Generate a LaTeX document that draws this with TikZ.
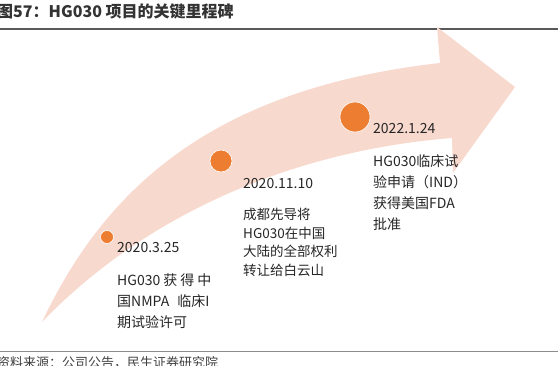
\documentclass[tikz,border=0pt]{standalone}
\usepackage{fontspec}
\setmainfont{Noto Sans CJK SC}
\usetikzlibrary{positioning}
\definecolor{bandpink}{RGB}{248,217,206}
\definecolor{dotorange}{RGB}{237,125,49}
\definecolor{textdark}{RGB}{38,38,38}

\begin{document}
\begin{tikzpicture}[x=1pt, y=-1pt,
  dot/.style={draw=white, line width=0.6pt, circle, fill=dotorange, inner sep=0pt},
  datelabel/.style={anchor=north west, inner sep=0pt, text=textdark, font=\fontsize{14}{16}\selectfont},
  desc/.style={anchor=north west, inner sep=0pt, text=textdark, align=left}]
  \useasboundingbox (0,0) rectangle (558,366);
  % title and source lines
  \node[anchor=west, inner sep=0pt, text=black!80, font=\fontsize{16}{18}\selectfont\bfseries] (title) at (-3,12) {图57：HG030 项目的关键里程碑};
  \draw[line width=2pt, black!65] (0,29.5) -- (558,29.5);
  \draw[line width=1pt, black!45] (0,351.5) -- (558,351.5);
  \node[anchor=north west, inner sep=0pt, text=black!75, font=\fontsize{13}{15}\selectfont] (source) at (-3,356.5) {资料来源：公司公告，民生证券研究院};
  % curved arrow
  \fill[bandpink] (42,322) .. controls (100,200) and (200,90) .. (440,63) -- (437,27) -- (515,87) -- (453,173) -- (452,138)
    .. controls (300,150) and (150,210) .. (42,322) -- cycle;
  % milestones
  \node[dot, minimum size=13pt] (m1) at (107,237) {};
  \node[dot, minimum size=22pt] (m2) at (221,161) {};
  \node[dot, minimum size=30pt] (m3) at (355,117) {};
  \node[datelabel] (date1) at (117,242.5) {2020.3.25};
  \node[datelabel] (date2) at (243,178) {2020.11.10};
  \node[datelabel] (date3) at (373,123) {2022.1.24};
  \node[desc, font=\fontsize{14}{21}\selectfont] (text1) at (117,274) {HG030\hspace{3pt}获\hspace{3pt}得\hspace{3pt}中\\国NMPA\hspace{8pt}临床I\\期试验许可};
  \node[desc, font=\fontsize{13.5}{18.6}\selectfont] (text2) at (243,208) {成都先导将\\HG030在中国\\大陆的全部权利\\转让给白云山};
  \node[desc, font=\fontsize{14}{21}\selectfont] (text3) at (373,154) {HG030临床试\\验申请（IND）\\获得美国FDA\\批准};
\end{tikzpicture}
\end{document}
